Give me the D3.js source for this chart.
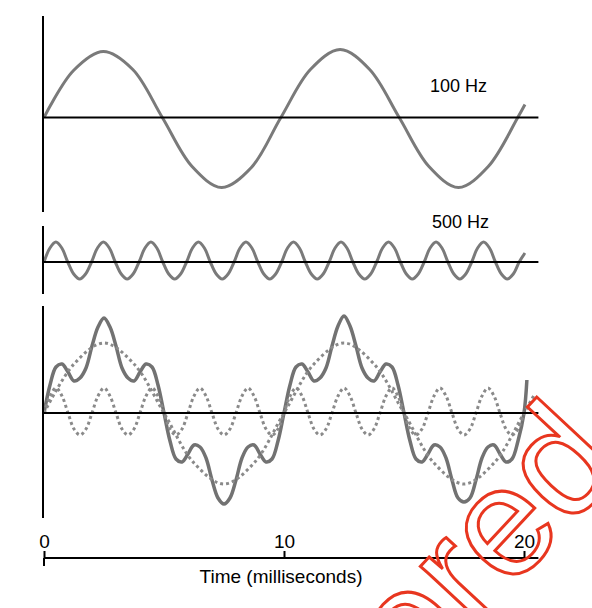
<!DOCTYPE html>
<meta charset="utf-8">
<style>
  body { margin: 0; background: #fff; }
  text { font-family: "Liberation Sans", Arial, sans-serif; fill: #000; }
  .wave { fill: none; stroke: #7a7a7a; stroke-width: 3; stroke-linejoin: round; }
  .sum { fill: none; stroke: #727272; stroke-width: 3.5; stroke-linejoin: round; }
  .dots { fill: none; stroke: #8a8a8a; stroke-width: 3; stroke-dasharray: 3,3; }
  .ax { stroke: #000; stroke-width: 2; }
  .mark { fill: none; stroke: #e8361f; stroke-width: 3; }
</style>

<body>
  <script src="https://d3js.org/d3.v7.min.js"></script>
  <script>

    // ---- data (time in ms, amplitude) ----

    // top trace: the 100 Hz tone
    var topTime = [0, 1.23, 2.47, 3.70, 4.93, 6.17, 7.40, 8.64, 9.87, 11.10, 12.34,
      13.57, 14.80, 16.04, 17.27, 18.51, 19.74, 20.04];
    var topVal = [0, 47, 66, 48, 0, -49, -70, -50, 0, 48, 68, 48, 0, -49, -70, -49, 0, 13];

    // middle trace: the 500 Hz tone, read every 1/8 cycle, last point is the pen end
    var midVal = [
      0, 14, 20, 14, 0, -12, -17, -12, 0, 14, 20, 14, 0, -12, -17, -12,
      0, 14, 20, 14, 0, -12, -17, -12, 0, 14, 20, 14, 0, -12, -17, -12,
      0, 14, 20, 14, 0, -12, -17, -12, 0, 14, 20, 14, 0, -12, -17, -12,
      0, 14, 20, 14, 0, -12, -17, -12, 0, 14, 20, 14, 0, -12, -17, -12,
      0, 14, 20, 14, 0, -12, -17, -12, 0, 14, 20, 14, 0, -12, -17, -12,
      0, 9];
    var midTime = d3.range(81).map(function (i) { return i * 0.2475; }).concat([20.04]);

    // bottom: the two tones again (dotted) and their sum (solid)
    var low100Time = [0, 1.25, 2.5, 3.75, 5, 6.25, 7.5, 8.75, 10, 11.25, 12.5, 13.75,
      15, 16.25, 17.5, 18.75, 20, 20.4];
    var low100Val = [0, 49, 70, 49, 0, -50, -71, -50, 0, 49, 70, 49, 0, -50, -71, -50, 0, 17];

    var low500Val = [
      0, 17, 25, 17, 0, -16, -22, -16, 0, 17, 25, 17, 0, -16, -22, -16,
      0, 17, 25, 17, 0, -16, -22, -16, 0, 17, 25, 17, 0, -16, -22, -16,
      0, 17, 25, 17, 0, -16, -22, -16, 0, 17, 25, 17, 0, -16, -22, -16,
      0, 17, 25, 17, 0, -16, -22, -16, 0, 17, 25, 17, 0, -16, -22, -16,
      0, 17, 25, 17, 0, -16, -22, -16, 0, 17, 25, 17, 0, -16, -22, -16,
      0];

    var sumVal = [
      0, 28, 46, 49, 41, 32, 35, 45, 67, 86, 95, 86, 67, 45, 35, 32, 41, 49, 46, 28,
      0, -28, -46, -49, -41, -32, -34, -45, -67, -85, -91, -85, -67, -45, -34, -32, -41, -49, -46, -28,
      0, 28, 46, 49, 41, 32, 35, 45, 67, 87, 97, 87, 67, 45, 35, 32, 41, 49, 46, 28,
      0, -28, -46, -49, -41, -32, -34, -45, -67, -85, -89, -85, -67, -45, -34, -32, -41, -49, -46, -28,
      0, 33];
    var lowTime = d3.range(81).map(function (i) { return i * 0.25; });
    var sumTime = lowTime.concat([20.12]);

    var tickVals = [0, 10, 20];
    var labels = ["100 Hz", "500 Hz"];
    var axisTitle = "Time (milliseconds)";
    var watermark = "Unregistered";

    // ---- layout ----
    var width = 592, height = 608;

    var svg = d3.select("body").append("svg")
      .attr("width", width)
      .attr("height", height);

    var x = d3.scaleLinear().domain([0, 20]).range([44, 524]);

    // one y scale per panel, 1 unit = 1 px around the panel's zero line
    function yScale(zero) {
      return d3.scaleLinear().domain([-100, 100]).range([zero + 100, zero - 100]);
    }
    var yTop = yScale(117.5), yMid = yScale(262), yLow = yScale(413);

    function pairs(t, v) { return t.map(function (d, i) { return [d, v[i]]; }); }

    function trace(y) {
      return d3.line()
        .x(function (d) { return x(d[0]); })
        .y(function (d) { return y(d[1]); })
        .curve(d3.curveCatmullRom);
    }

    // panel frames: vertical line on the left, zero line across
    var panels = [
      { y: yTop, top: 16, bottom: 212, w: 2 },
      { y: yMid, top: 226, bottom: 294, w: 2 },
      { y: yLow, top: 306, bottom: 518, w: 1.5 }
    ];

    // waves
    svg.append("path").attr("class", "wave")
      .attr("d", trace(yTop)(pairs(topTime, topVal)));

    svg.append("path").attr("class", "wave")
      .attr("d", trace(yMid)(pairs(midTime, midVal)));

    svg.append("path").attr("class", "sum")
      .attr("d", trace(yLow)(pairs(sumTime, sumVal)));

    svg.append("path").attr("class", "dots")
      .attr("d", trace(yLow)(pairs(low100Time, low100Val)));

    svg.append("path").attr("class", "dots")
      .attr("d", trace(yLow)(pairs(lowTime, low500Val)));

    panels.forEach(function (p) {
      svg.append("line").attr("class", "ax")
        .attr("x1", x(0) - 1).attr("x2", x(0) - 1)
        .attr("y1", p.top).attr("y2", p.bottom);
      svg.append("line").attr("class", "ax")
        .attr("stroke-width", p.w)
        .attr("x1", x(0) - 1).attr("x2", x(20.6))
        .attr("y1", p.y(0)).attr("y2", p.y(0));
    });

    // tone labels
    svg.append("text").attr("x", 430).attr("y", 92)
      .attr("font-size", 18).text(labels[0]);
    svg.append("text").attr("x", 432).attr("y", 228)
      .attr("font-size", 18).text(labels[1]);

    // time axis, ticks and numbers sit above the line
    var axisY = 558;
    var gx = svg.append("g")
      .attr("transform", "translate(0," + axisY + ")")
      .call(d3.axisTop(x).tickValues(tickVals).tickSize(7).tickSizeOuter(0)
        .tickPadding(3).tickFormat(d3.format("d")))
      .attr("font-size", 19)
      .attr("font-family", "Liberation Sans, Arial, sans-serif");
    gx.select(".domain").remove();
    gx.selectAll(".tick line").attr("stroke", "#000").attr("stroke-width", 2);
    gx.selectAll(".tick text").attr("fill", "#000");

    svg.append("line").attr("class", "ax")
      .attr("x1", x(0)).attr("x2", x(20.6))
      .attr("y1", axisY).attr("y2", axisY);
    svg.append("line").attr("class", "ax")
      .attr("x1", x(0)).attr("x2", x(0))
      .attr("y1", axisY).attr("y2", axisY + 8);

    svg.append("text")
      .attr("x", 281).attr("y", 583)
      .attr("text-anchor", "middle")
      .attr("font-size", 19)
      .text(axisTitle);

    // red outlined stamp across the lower right
    svg.append("text").attr("class", "mark")
      .attr("transform", "translate(626,466) rotate(-47)")
      .attr("text-anchor", "end")
      .attr("font-size", 155)
      .text(watermark);

  </script>
</body>
